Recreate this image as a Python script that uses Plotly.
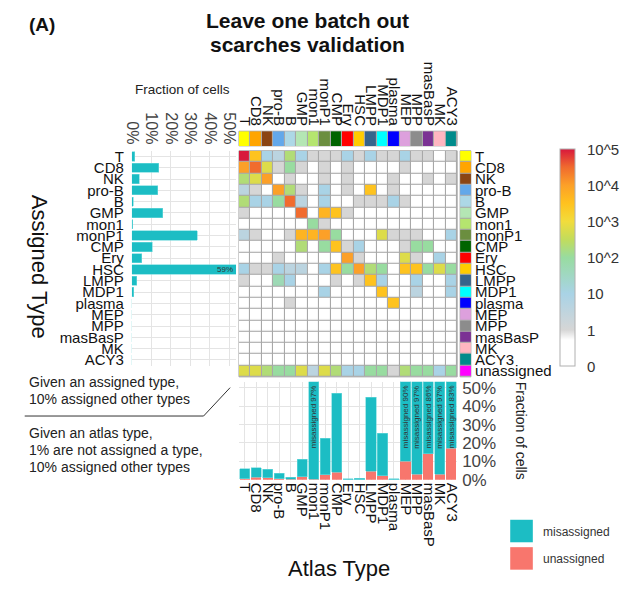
import numpy as np
import plotly.graph_objects as go

W, H = 640, 611
FONT = "Liberation Sans, Arial, sans-serif"

# ---------------- data ----------------
atlas_types = ["T", "CD8", "NK", "pro-B", "B", "GMP", "mon1", "monP1", "CMP", "Ery",
               "HSC", "LMPP", "MDP1", "plasma", "MEP", "MPP", "masBasP", "MK", "ACY3"]
assigned_types = atlas_types + ["unassigned"]

type_colors = ["#ffff00", "#ffa500", "#8b4513", "#63a8ea", "#add8e6", "#b4e6b4", "#b5e56f",
               "#6b8e3f", "#006400", "#ff0000", "#ffcc00", "#36648b", "#00ffff", "#0000ff",
               "#dda0dd", "#8c8c8c", "#7b3294", "#ffb6c1", "#008b8b", "#ff00ff"]

# cell counts: rows = assigned type, columns = atlas type
counts = [
    [100000, 3000, 10, 4, 200, 10, 1, 1, 1, 10, 1, 10, 1, 1, 10, 1, 1, 0, 1],        # T
    [10000, 30000, 600, 1, 100, 1, 0, 1, 0, 1, 0, 0, 0, 0, 1, 0, 0, 0, 0],           # CD8
    [200, 600, 10000, 0, 1, 0, 0, 1, 0, 1, 0, 0, 0, 1, 0, 0, 1, 0, 1],               # NK
    [4, 1, 0, 10000, 200, 1, 0, 10, 0, 1, 0, 3000, 0, 1, 0, 0, 0, 0, 0],             # pro-B
    [200, 10, 10, 100, 30000, 4, 0, 10, 0, 0, 1, 1, 1, 10, 1, 0, 0, 0, 0],           # B
    [1, 0, 0, 0, 0, 30000, 0, 5000, 3000, 1, 0, 0, 0, 0, 0, 0, 0, 0, 0],             # GMP
    [0, 0, 0, 0, 0, 0, 100, 1, 0, 0, 0, 0, 0, 0, 0, 0, 0, 0, 0],                     # mon1
    [4, 1, 0, 0, 1, 5000, 5000, 10000, 100, 0, 0, 0, 600, 1, 1, 1, 0, 0, 10],        # monP1
    [0, 0, 0, 0, 0, 200, 0, 100, 3000, 1, 10, 0, 0, 0, 1, 100, 100, 0, 0],           # CMP
    [0, 0, 0, 1, 0, 0, 0, 0, 0, 10000, 1, 0, 0, 0, 600, 1, 0, 10, 0],                # Ery
    [10, 1, 1, 10, 4, 4, 0, 10, 3000, 100, 10000, 200, 100, 0, 3000, 3000, 100, 600, 100],  # HSC
    [1, 0, 0, 50, 10, 0, 0, 0, 1, 0, 1, 3000, 10, 0, 0, 10, 0, 0, 10],               # LMPP
    [0, 0, 0, 0, 0, 0, 0, 10, 0, 0, 0, 0, 3000, 0, 0, 4, 0, 0, 10],                  # MDP1
    [0, 0, 0, 0, 1, 0, 0, 0, 0, 0, 0, 0, 0, 3000, 0, 0, 0, 0, 0],                    # plasma
    [0] * 19,                                                                        # MEP
    [0] * 19,                                                                        # MPP
    [0] * 19,                                                                        # masBasP
    [0] * 19,                                                                        # MK
    [0] * 19,                                                                        # ACY3
    [600, 600, 200, 100, 100, 600, 4, 600, 200, 10, 10, 100, 100, 1, 200, 100, 100, 10, 100],  # unassigned
]

# fraction of cells of an assigned type that belong to other atlas types
assigned_misassigned = [0.015, 0.138, 0.037, 0.133, 0.008, 0.158, 0.005, 0.335, 0.104, 0.05,
                        0.59, 0.025, 0.01, 0.0, 0.0, 0.0, 0.0, 0.0, 0.0]

# per atlas type: fraction unassigned / misassigned
atlas_unassigned = [0.005, 0.014, 0.010, 0.005, 0.003, 0.015, 0.003, 0.027, 0.040, 0.0,
                    0.0, 0.045, 0.020, 0.0, 0.10, 0.03, 0.14, 0.03, 0.17]
atlas_misassigned = [0.054, 0.052, 0.047, 0.031, 0.010, 0.095, 0.97, 0.200, 0.430, 0.005,
                     0.007, 0.405, 0.233, 0.006, 0.90, 0.97, 0.86, 0.97, 0.83]

colorbar_ticks = ["0", "1", "10", "10^2", "10^3", "10^4", "10^5"]
pct_ticks = [0, 0.1, 0.2, 0.3, 0.4, 0.5]

TEAL = "#1cbdc4"
SALMON = "#f8766d"

# ---------------- helpers ----------------
def dx(p):
    return p / W

def dy(p):
    return 1 - p / H

cnt = np.array(counts, dtype=float)
zlog = np.where(cnt > 0, np.log10(np.where(cnt > 0, cnt, 1)) + 1, 0)

heat_scale = [
    [0.0, "#ffffff"], [0.12, "#ffffff"], [1 / 6, "#d6d6d6"], [2 / 6, "#a9d3e6"],
    [3 / 6, "#98dca0"], [3.5 / 6, "#c2dc5c"], [4 / 6, "#f2dc3c"], [4.5 / 6, "#ffc21e"],
    [5 / 6, "#fca028"], [5.5 / 6, "#f06a2e"], [1.0, "#d8183c"],
]

def discrete_scale(colors):
    n = len(colors)
    sc = []
    for i, c in enumerate(colors):
        sc.append([i / n, c])
        sc.append([(i + 1) / n, c])
    return sc

fig = go.Figure()

# main heatmap
fig.add_trace(go.Heatmap(
    x=atlas_types, y=assigned_types, z=zlog, customdata=cnt,
    colorscale=heat_scale, zmin=0, zmax=6, xgap=1.1, ygap=1.1,
    xaxis="x", yaxis="y",
    hovertemplate="atlas %{x}<br>assigned %{y}<br>%{customdata} cells<extra></extra>",
    colorbar=dict(
        x=dx(562), xanchor="left", xpad=0, ypad=0,
        y=dy(260.5), yanchor="middle", lenmode="pixels", len=217,
        thickness=15, outlinewidth=1, outlinecolor="#b0b0b0",
        tickvals=list(range(7)), ticktext=colorbar_ticks,
        ticks="outside", ticklen=9, tickcolor="rgba(0,0,0,0)",
        tickfont=dict(size=15, color="#333", family=FONT),
    ),
))

# top colour strip (atlas types)
fig.add_trace(go.Heatmap(
    x=atlas_types, y=["atlas"], z=[list(range(len(atlas_types)))],
    colorscale=discrete_scale(type_colors[:19]), zmin=-0.5, zmax=18.5,
    showscale=False, xgap=1.1, xaxis="x2", yaxis="y2", hoverinfo="x",
))

# right colour strip (assigned types)
fig.add_trace(go.Heatmap(
    x=["assigned"], y=assigned_types, z=[[i] for i in range(len(assigned_types))],
    colorscale=discrete_scale(type_colors), zmin=-0.5, zmax=19.5,
    showscale=False, ygap=1.1, xaxis="x3", yaxis="y3", hoverinfo="y",
))

# left bars: assigned type misassigned fraction
fig.add_trace(go.Bar(
    x=assigned_misassigned, y=atlas_types, orientation="h", width=0.82,
    marker=dict(color=TEAL, line=dict(color="#6fd8dc", width=0.6)),
    xaxis="x4", yaxis="y4", showlegend=False,
))

# bottom stacked bars
fig.add_trace(go.Bar(
    x=atlas_types, y=atlas_unassigned, name="unassigned", width=0.88,
    marker=dict(color=SALMON, line=dict(width=0)), xaxis="x5", yaxis="y5", showlegend=False,
))
fig.add_trace(go.Bar(
    x=atlas_types, y=atlas_misassigned, name="misassigned", width=0.88,
    marker=dict(color=TEAL, line=dict(color="#6fd8dc", width=0.6)),
    xaxis="x5", yaxis="y5", showlegend=False,
))

heat_xdom = [dx(235), dx(457)]
heat_ydom = [dy(382), dy(151)]
pct_text = [f"{int(round(v * 100))}%" for v in pct_ticks]
grid = "#e4e4e4"
idx19 = list(range(len(atlas_types)))
idx20 = list(range(len(assigned_types)))

fig.update_layout(
    width=W, height=H, margin=dict(l=0, r=0, t=0, b=0),
    paper_bgcolor="white", plot_bgcolor="white",
    barmode="stack", showlegend=False,
    font=dict(family=FONT, color="#222"),
    xaxis=dict(domain=heat_xdom, anchor="y", range=[-0.5, 18.5], showticklabels=False,
               showgrid=False, zeroline=False, ticks=""),
    yaxis=dict(domain=heat_ydom, anchor="x", range=[19.5, -0.5], showticklabels=False,
               showgrid=False, zeroline=False, ticks=""),
    xaxis2=dict(domain=heat_xdom, anchor="y2", side="top", range=[-0.5, 18.5],
                tickmode="array", tickvals=idx19, ticktext=atlas_types,
                tickangle=90, tickfont=dict(size=15, color="#111"), showgrid=False,
                zeroline=False, ticks="", ticklabelstandoff=2),
    yaxis2=dict(domain=[dy(146), dy(131)], anchor="x2", showticklabels=False,
                showgrid=False, zeroline=False),
    xaxis3=dict(domain=[dx(460), dx(471)], anchor="y3", showticklabels=False,
                showgrid=False, zeroline=False),
    yaxis3=dict(domain=heat_ydom, anchor="x3", side="right", range=[19.5, -0.5],
                tickmode="array", tickvals=idx20, ticktext=assigned_types,
                tickfont=dict(size=15, color="#111"), showgrid=False, zeroline=False,
                ticks="", ticklabelstandoff=3),
    xaxis4=dict(domain=[dx(126), dx(232)], anchor="y4", side="top", range=[0, 0.535],
                tickmode="array", tickvals=pct_ticks, ticktext=pct_text, tickangle=90,
                tickfont=dict(size=16, color="#444"), showgrid=True, gridcolor=grid,
                zeroline=False, ticks="", ticklabelstandoff=3),
    yaxis4=dict(domain=[dy(370.5), dy(151)], anchor="x4", range=[18.5, -0.5],
                tickmode="array", tickvals=idx19, ticktext=atlas_types,
                tickfont=dict(size=15, color="#111"), showgrid=True, gridcolor=grid,
                zeroline=False, ticks="", ticklabelstandoff=7),
    xaxis5=dict(domain=heat_xdom, anchor="y5", range=[-0.5, 18.5], tickangle=90,
                tickmode="array", tickvals=idx19, ticktext=atlas_types,
                tickfont=dict(size=15, color="#111"), showgrid=True, gridcolor=grid,
                zeroline=False, ticks="", ticklabelstandoff=2),
    yaxis5=dict(domain=[dy(487), dy(387)], anchor="x5", side="right", range=[0, 0.5336],
                tickmode="array", tickvals=pct_ticks, ticktext=pct_text,
                tickfont=dict(size=17, color="#444"),
                showgrid=True, gridcolor=grid, zeroline=False, ticks="",
                ticklabelstandoff=4),
)

shapes = [
    # grey backgrounds giving the cell borders
    dict(type="rect", xref="x domain", yref="y domain", x0=0, x1=1, y0=0, y1=1,
         fillcolor="#a8a8a8", line=dict(color="#a8a8a8", width=1), layer="below"),
    dict(type="rect", xref="x2 domain", yref="y2 domain", x0=0, x1=1, y0=0, y1=1,
         fillcolor="#a8a8a8", line=dict(color="#a8a8a8", width=1), layer="below"),
    dict(type="rect", xref="x3 domain", yref="y3 domain", x0=0, x1=1, y0=0, y1=1,
         fillcolor="#a8a8a8", line=dict(color="#a8a8a8", width=1), layer="below"),
    # explanatory divider line
    dict(type="path", xref="paper", yref="paper",
         path=f"M {dx(17)} {dy(422)} L {dx(199)} {dy(422)} L {dx(226)} {dy(393)}",
         line=dict(color="#333", width=1)),
    # legend keys
    dict(type="rect", xref="paper", yref="paper", x0=dx(511), x1=dx(534), y0=dy(551), y1=dy(528),
         fillcolor=TEAL, line=dict(width=0)),
    dict(type="rect", xref="paper", yref="paper", x0=dx(511), x1=dx(534), y0=dy(579), y1=dy(556),
         fillcolor=SALMON, line=dict(width=0)),
]

ann = []
def text(x, y, s, size, **kw):
    d = dict(x=dx(x), y=dy(y), xref="paper", yref="paper", text=s, showarrow=False,
             font=dict(size=size, family=FONT, color=kw.pop("color", "#222")))
    d.update(kw)
    ann.append(d)

text(19, 22, "<b>(A)</b>", 19, xanchor="left", yanchor="middle", color="#111")
text(305, 18, "<b>Leave one batch out</b>", 21, xanchor="center", yanchor="middle", color="#111")
text(305, 42, "<b>scarches validation</b>", 21, xanchor="center", yanchor="middle", color="#111")
text(178, 88, "Fraction of cells", 13.5, xanchor="center", yanchor="middle")
text(32, 270, "Assigned Type", 22, textangle=90, xanchor="center", yanchor="middle", color="#111")
text(337, 578, "Atlas Type", 22, xanchor="center", yanchor="middle", color="#111")
text(522, 437, "Fraction of cells", 14, textangle=90, xanchor="center", yanchor="middle")
text(19, 387, "Given an assigned type,", 14, xanchor="left", yanchor="middle")
text(19, 405, "10% assigned other types", 14, xanchor="left", yanchor="middle")
text(19, 439, "Given an atlas type,", 14, xanchor="left", yanchor="middle")
text(19, 457, "1% are not assigned a type,", 14, xanchor="left", yanchor="middle")
text(19, 474, "10% assigned other types", 14, xanchor="left", yanchor="middle")
text(542, 540, "misassigned", 12, xanchor="left", yanchor="middle", color="#333")
text(542, 568, "unassigned", 12, xanchor="left", yanchor="middle", color="#333")

# value labels on clipped bars
ymax5 = 0.5336
for i, (m, u) in enumerate(zip(atlas_misassigned, atlas_unassigned)):
    if m + u > ymax5:
        ann.append(dict(x=i, y=ymax5 - 0.008, xref="x5", yref="y5",
                        text=f"misassigned {int(round(m * 100))}%", textangle=-90,
                        xanchor="center", yanchor="top", showarrow=False,
                        font=dict(size=8, family=FONT, color="#333")))
for i, v in enumerate(assigned_misassigned):
    if v > 0.535:
        ann.append(dict(x=0.528, y=i, xref="x4", yref="y4", text=f"{int(round(v * 100))}%",
                        xanchor="right", yanchor="middle", showarrow=False,
                        font=dict(size=8, family=FONT, color="#333")))

fig.update_layout(shapes=shapes, annotations=ann)
fig.write_html("out.html", config={"displayModeBar": False},
               post_script="document.body.style.margin='0';document.body.style.overflow='hidden';")
